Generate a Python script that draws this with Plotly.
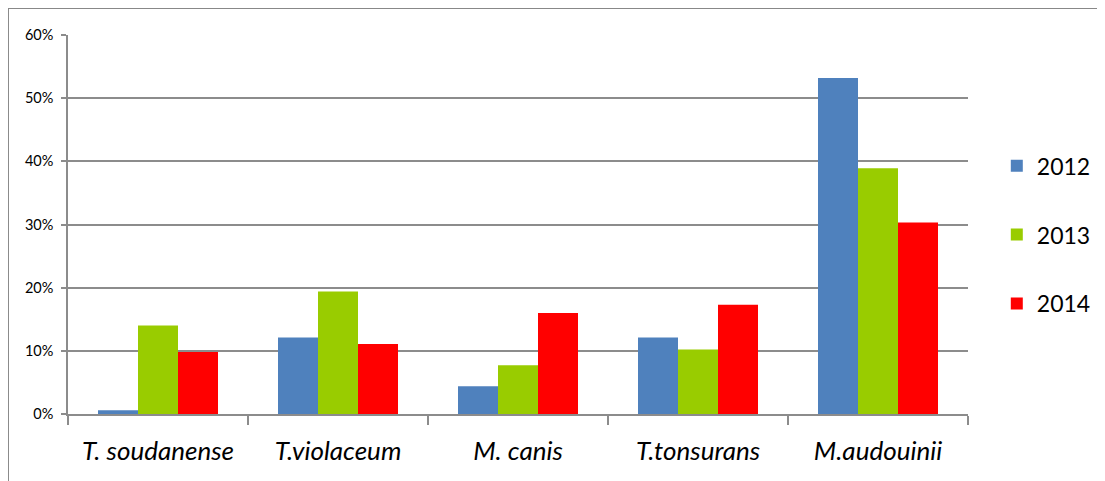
import plotly.graph_objects as go

categories = ["T. soudanense", "T.violaceum", "M. canis", "T.tonsurans", "M.audouinii"]
years = ["2012", "2013", "2014"]
values_2012 = [0.6, 12.1, 4.4, 12.1, 53.2]
values_2013 = [14.0, 19.4, 7.7, 10.2, 38.9]
values_2014 = [9.8, 11.1, 16.0, 17.3, 30.3]
colors = ["#4F81BD", "#99CC00", "#FF0000"]

series = [values_2012, values_2013, values_2014]

fig = go.Figure()
for name, vals, col in zip(years, series, colors):
    fig.add_trace(go.Bar(
        x=categories, y=vals, name=name, legendgroup=name,
        marker=dict(color=col, line=dict(width=0)),
    ))

grid = "#8C8C8C"
fig.update_layout(
    width=1097, height=473,
    margin=dict(l=60, r=137, t=27, b=67, autoexpand=False),
    paper_bgcolor="white", plot_bgcolor="white",
    barmode="group", bargap=1/3, bargroupgap=0,
    font=dict(family="Lato, Carlito, sans-serif", color="black"),
    showlegend=True,
    legend=dict(
        x=1.032, xanchor="left", y=0.473, yanchor="middle",
        font=dict(size=23, color="black"),
        tracegroupgap=36, bgcolor="rgba(0,0,0,0)",
        itemclick=False,
    ),
    xaxis=dict(
        type="category", showgrid=False,
        showline=True, linecolor=grid, linewidth=1.5,
        ticks="outside", tickson="boundaries", ticklen=9,
        tickcolor=grid, tickwidth=1.5,
        tickfont=dict(size=26, style="italic", color="black"),
        ticklabelstandoff=13,
    ),
    yaxis=dict(
        range=[0, 60], tick0=0, dtick=10, ticksuffix="%",
        showgrid=True, gridcolor=grid, gridwidth=1.5,
        showline=True, linecolor=grid, linewidth=1.5,
        ticks="outside", ticklen=5, tickcolor=grid, tickwidth=1.5,
        tickfont=dict(size=14.5, color="black"),
        ticklabelstandoff=5,
        zeroline=False,
    ),
    shapes=[
        dict(type="line", xref="paper", yref="paper",
             x0=-0.0667, x1=1.2, y0=1.0715, y1=1.0715,
             line=dict(color="#888888", width=2)),
        dict(type="line", xref="paper", yref="paper",
             x0=-0.0667, x1=-0.0667, y0=1.0715, y1=-0.3,
             line=dict(color="#888888", width=2)),
    ],
)

fig.write_html("out.html")
